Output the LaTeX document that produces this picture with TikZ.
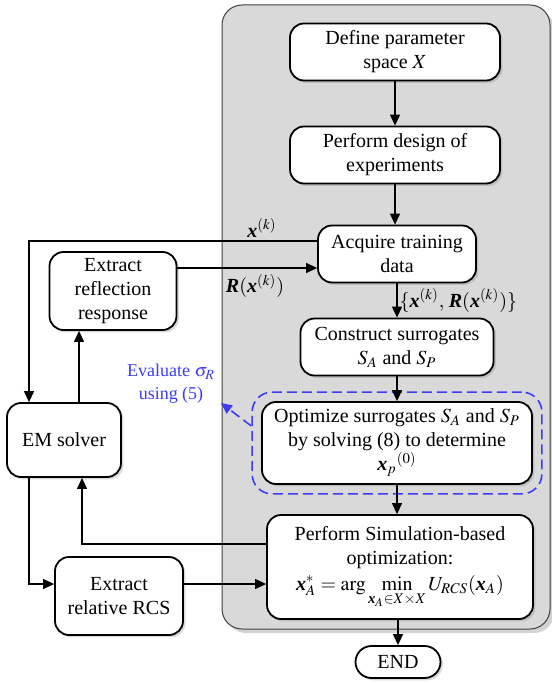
\documentclass[tikz,border=0pt]{standalone}
\usepackage{amsmath}
\usepackage{mathptmx}
\usepackage{fontspec}
\setmainfont{Liberation Serif}
\usetikzlibrary{arrows.meta}
\usetikzlibrary{shadows}
\usetikzlibrary{fit}
\definecolor{panelgray}{RGB}{217,217,217}
\definecolor{evalblue}{RGB}{60,60,245}
\newcommand{\vx}{\textbf{\textit{x}}}
\newcommand{\vR}{\textbf{\textit{R}}}

\begin{document}
\begin{tikzpicture}[x=0.5pt,y=-0.5pt,
  >={Triangle[length=5.5pt,width=5pt]},
  box/.style={draw,line width=0.9pt,rounded corners=7pt,fill=white,align=center,inner sep=1pt,
    drop shadow={shadow xshift=1.2pt,shadow yshift=-1.2pt,opacity=0.3}},
  dashbox/.style={draw=evalblue,dash pattern=on 5pt off 2.5pt,line width=0.8pt,rounded corners=10pt},
  conn/.style={line width=0.6pt,->},
  lbl/.style={inner sep=1pt}]
\useasboundingbox (0,0) rectangle (551,683);
\draw[fill=panelgray,draw=black!75,line width=0.5pt,rounded corners=10pt,
  drop shadow={shadow xshift=2pt,shadow yshift=-2pt,opacity=0.35}] (222,5) rectangle (550,629);

\node[box,minimum width=105pt,minimum height=28.5pt] (define) at (395,52) {Define parameter\\space $X$};
\node[box,minimum width=105pt,minimum height=28.5pt] (doe) at (395,155) {Perform design of\\experiments};
\node[box,minimum width=79pt,minimum height=28.5pt] (acquire) at (397,254) {Acquire training\\data};
\node[box,minimum width=96.5pt,minimum height=28.5pt] (construct) at (397,347) {Construct surrogates\\$S_A$ and $S_P$};
\node[box,minimum width=135pt,minimum height=41pt] (optsur) at (397,443) {Optimize surrogates $S_A$ and $S_P$\\by solving (8) to determine\\${\vx_p}^{(0)}$};
\node[dashbox,fit=(optsur),inner sep=4.5pt] (optfit) {};
\node[box,minimum width=133pt,minimum height=52pt] (simopt) at (400,567) {Perform Simulation-based\\optimization:\\[1pt]$\vx_A^{*}=\arg\min\limits_{\vx_A\in X\times X}U_{RCS}(\vx_A)$};
\node[box,rounded corners=8pt,minimum width=42.5pt,minimum height=16pt] (finish) at (398,662) {END};
\node[box,minimum width=63.5pt,minimum height=39pt] (extref) at (113,291) {Extract\\reflection\\response};
\node[box,minimum width=57pt,minimum height=37pt] (emsolver) at (64,440) {EM solver};
\node[box,minimum width=64pt,minimum height=39pt] (extrcs) at (119,596) {Extract\\relative RCS};

\draw[conn] (define) -- (doe);
\draw[conn] (doe) -- (doe |- acquire.north);
\draw[conn] (acquire) -- (construct) node[midway,right,lbl] (lblset) {$\{\vx^{(k)},\,\vR(\vx^{(k)})\}$};
\draw[conn] (construct) -- (optsur);
\draw[conn] (optsur.south) -- (optsur.south |- simopt.north);
\draw[conn] (finish.north |- simopt.south) -- (finish.north);

\coordinate (xkout) at ([yshift=6.5pt]acquire.west);
\coordinate (emin) at ([xshift=-17.5pt]emsolver.north);
\draw[conn] (xkout) -| (emin);
\node[lbl] (lblxk) at (262,228) {$\vx^{(k)}$};
\coordinate (refout) at ([yshift=11.5pt]extref.east);
\draw[conn] (refout) -- (refout -| acquire.west);
\node[lbl] (lblr) at (255,286) {$\vR(\vx^{(k)})$};
\coordinate (emup) at ([xshift=7.5pt]emsolver.north);
\draw[conn] (emup) -- (emup |- extref.south);
\coordinate (simback) at ([yshift=11.5pt]simopt.west);
\coordinate (emback) at ([xshift=9pt]emsolver.south);
\draw[conn] (simback) -| (emback);
\coordinate (emdown) at ([xshift=-17.5pt]emsolver.south);
\coordinate (rcsin) at ([yshift=6pt]extrcs.west);
\draw[conn] (emdown) |- (rcsin);
\draw[conn] (rcsin -| extrcs.east) -- (rcsin -| simopt.west);

\node[text=evalblue,align=center,lbl,font=\fontsize{9}{11.5}\selectfont] (evalnote) at (171,384) {Evaluate $\sigma_R$\\using (5)};
\coordinate (evaltip) at (221,403);
\draw[evalblue,line width=0.8pt,dash pattern=on 5pt off 2.5pt,->] ([yshift=8.5pt]optfit.west) -- (evaltip);
\end{tikzpicture}
\end{document}
